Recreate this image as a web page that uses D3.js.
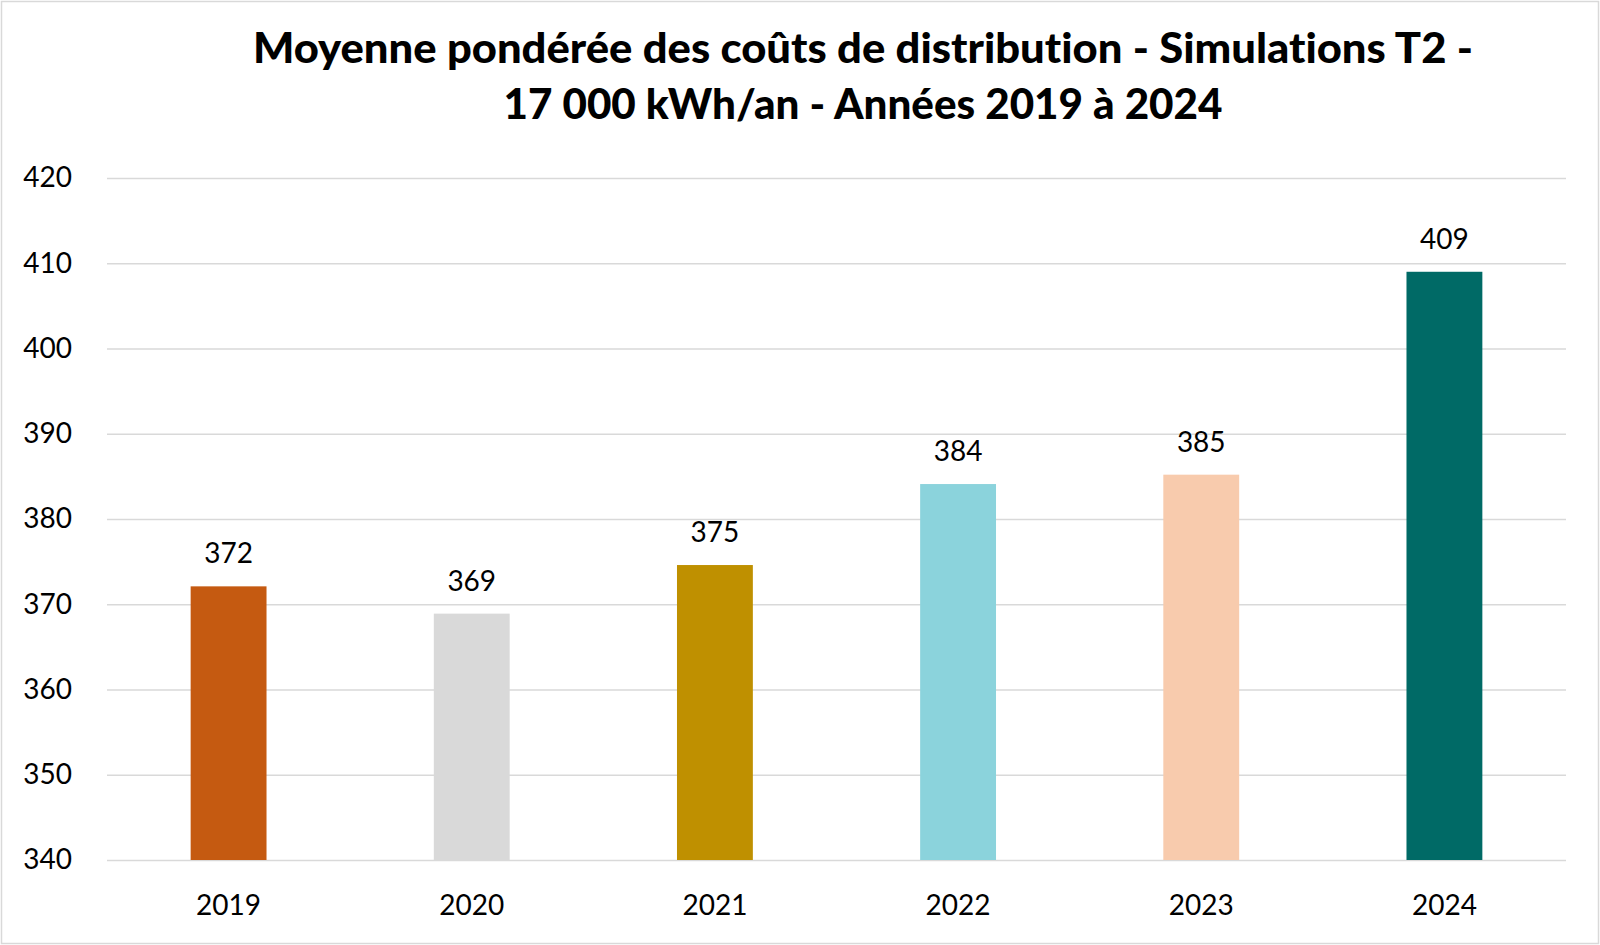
<!DOCTYPE html>
<html>
<head>
<meta charset="utf-8">
<script src="https://cdn.jsdelivr.net/npm/d3@7"></script>
<style>
  body { margin: 0; background: #fff; }
  svg { display: block; font-family: Lato, "Open Sans", sans-serif; font-variant-ligatures: none; }
</style>
</head>
<body>
<script>
// data
var years = ["2019", "2020", "2021", "2022", "2023", "2024"];
var values = [372.1, 368.9, 374.6, 384.1, 385.2, 409.0];
var labels = ["372", "369", "375", "384", "385", "409"];
var barColors = ["#C55A11", "#D9D9D9", "#BF9000", "#8BD3DC", "#F8CBAD", "#006A66"];
var yTicks = [340, 350, 360, 370, 380, 390, 400, 410, 420];
var titleLines = [
  "Moyenne pondérée des coûts de distribution - Simulations T2 -",
  "17 000 kWh/an - Années 2019 à 2024"
];

var width = 1600, height = 945;
var margin = { top: 178, right: 34, bottom: 85, left: 107 };

var svg = d3.select("body").append("svg")
    .attr("width", width)
    .attr("height", height);

// chart area border
svg.append("rect")
    .attr("x", 1.5).attr("y", 1.5)
    .attr("width", width - 3).attr("height", height - 3)
    .attr("fill", "#fff")
    .attr("stroke", "#D9D9D9")
    .attr("stroke-width", 1.5);

var x = d3.scaleBand()
    .domain(years)
    .range([margin.left, width - margin.right]);

var y = d3.scaleLinear()
    .domain([340, 420])
    .range([height - margin.bottom, margin.top]);

// gridlines + y tick labels via axis
var yAxis = svg.append("g")
    .attr("transform", "translate(" + margin.left + ",0)")
    .call(d3.axisLeft(y)
      .tickValues(yTicks)
      .tickSize(-(width - margin.left - margin.right))
      .tickPadding(35)
      .tickFormat(d3.format("d")));
yAxis.select(".domain").remove();
yAxis.selectAll(".tick line")
    .attr("stroke", "#D9D9D9")
    .attr("stroke-width", 1.5);
yAxis.selectAll(".tick text")
    .attr("fill", "#000")
    .style("font-size", "28px")
    .style("font-family", "Lato, 'Open Sans', sans-serif");

// x labels
var xAxis = svg.append("g")
    .attr("transform", "translate(0," + (height - margin.bottom) + ")")
    .call(d3.axisBottom(x).tickSize(0).tickPadding(0));
xAxis.select(".domain").remove();
xAxis.selectAll(".tick text")
    .attr("y", 55)
    .attr("dy", 0)
    .attr("fill", "#000")
    .style("font-size", "28px")
    .style("font-family", "Lato, 'Open Sans', sans-serif");

// bars
var barW = x.bandwidth() * 0.312;
svg.selectAll(".bar")
    .data(values)
  .enter().append("rect")
    .attr("class", "bar")
    .attr("x", function(d, i) { return x(years[i]) + (x.bandwidth() - barW) / 2; })
    .attr("y", function(d) { return y(d); })
    .attr("width", barW)
    .attr("height", function(d) { return y(340) - y(d); })
    .attr("fill", function(d, i) { return barColors[i]; });

// value labels
svg.selectAll(".val")
    .data(values)
  .enter().append("text")
    .attr("class", "val")
    .attr("x", function(d, i) { return x(years[i]) + x.bandwidth() / 2; })
    .attr("y", function(d) { return y(d) - 23; })
    .attr("text-anchor", "middle")
    .style("font-size", "28px")
    .text(function(d, i) { return labels[i]; });

// title, fitted to the width of the original
var titleWidths = [1220, 719];
var titleY = [63, 119];
titleLines.forEach(function(t, i) {
  svg.append("text")
      .attr("x", 863)
      .attr("y", titleY[i])
      .attr("text-anchor", "middle")
      .attr("textLength", titleWidths[i])
      .attr("lengthAdjust", "spacingAndGlyphs")
      .style("font-size", "42px")
      .style("font-weight", "900")
      .text(t);
});
</script>
</body>
</html>
